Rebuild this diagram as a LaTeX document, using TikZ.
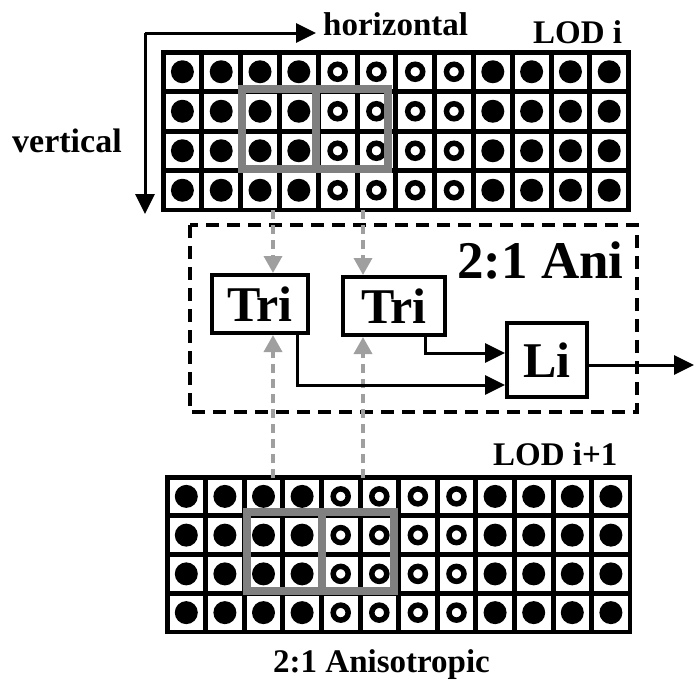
\documentclass[tikz,border=0pt]{standalone}
\usepackage{fontspec}
\setmainfont{Liberation Serif}
\usetikzlibrary{arrows.meta}
\newcommand\lodgrid[4]{%
  \fill[black] ({#1-2},{#2-2}) rectangle ++({12*#3+4},{4*#4+4});
  \foreach \i in {0,...,11}{\foreach \j in {0,...,3}{%
    \fill[white] ({#1+\i*#3+2.5},{#2+\j*#4+2.5}) rectangle ++({#3-5},{#4-5});
    \ifnum\i>3 \ifnum\i<8
      \draw[line width=5.5pt] ({#1+(\i+0.5)*#3},{#2+(\j+0.5)*#4}) circle (7.5pt);
    \else
      \fill ({#1+(\i+0.5)*#3},{#2+(\j+0.5)*#4}) circle (11.5pt);
    \fi\else
      \fill ({#1+(\i+0.5)*#3},{#2+(\j+0.5)*#4}) circle (11.5pt);
    \fi
  }}}
\begin{document}
\begin{tikzpicture}[x=1pt,y=-1pt,
  lbl/.style={anchor=base west,inner sep=0pt,font=\bfseries\fontsize{33}{33}\selectfont},
  blk/.style={draw,line width=4pt,fill=white,inner sep=0pt,font=\bfseries\fontsize{50}{50}\selectfont},
  garrow/.style={draw=gray!75,line width=3.5pt,dash pattern=on 9pt off 6pt,-{Triangle[length=17pt,width=18pt,fill=gray!75]}},
  barrow/.style={draw,line width=3pt,-{Triangle[length=20pt,width=19pt]}},
  gbox/.style={draw=black!50,line width=8pt}]
\useasboundingbox (0,0) rectangle (694,689);
% grids
\lodgrid{163}{52}{38.8}{39.5}
\lodgrid{167}{477}{38.6}{38.75}
\draw[gbox] (242,89) rectangle (388,169) (316,89) -- (316,169);
\draw[gbox] (247,512) rectangle (394,591) (322,512) -- (322,591);
% direction arrows
\coordinate (corner) at (145,33);
\coordinate (hend) at (316,33);
\coordinate (vend) at (145,214);
\draw[barrow] (corner) -- (hend);
\draw[barrow] (corner) -- (vend);
\node[lbl] (hlab) at (323,35) {horizontal};
\node[lbl] (lodi) at (533,43) {LOD i};
\node[lbl,font=\bfseries\fontsize{34}{34}\selectfont] (vlab) at (12,152) {vertical};
\node[lbl] (lodi1) at (493,465) {LOD i+1};
\node[lbl] (aniso) at (273,672) {2:1 Anisotropic};
% dashed box
\draw[line width=4pt,dash pattern=on 13pt off 8pt] (190,225) rectangle (637,412);
\node[lbl,font=\bfseries\fontsize{53}{53}\selectfont] (ani) at (457,278) {2:1 Ani};
% blocks
\node[blk,minimum width=96pt,minimum height=58pt] (tri1) at (260,304) {Tri};
\node[blk,minimum width=102pt,minimum height=58pt] (tri2) at (394,306) {Tri};
\node[blk,minimum width=80pt,minimum height=74pt] (li) at (547,360) {Li};
\coordinate (out) at (694,365);
% gray dashed arrows
\coordinate (t1) at (273,210);
\coordinate (t2) at (363,210);
\coordinate (b1) at (273,478);
\coordinate (b2) at (363,478);
\draw[garrow] (t1) -- (t1 |- tri1.north);
\draw[garrow] (t2) -- (t2 |- tri2.north);
\draw[garrow] (b1) -- (b1 |- tri1.south);
\draw[garrow] (b2) -- (b2 |- tri2.south);
% black arrows
\draw[barrow] ([xshift=37pt]tri1.south) |- ([yshift=-25pt]li.west);
\draw[barrow] ([xshift=31pt]tri2.south) |- ([yshift=7pt]li.west);
\draw[barrow] (li.east |- out) -- (out);
\end{tikzpicture}
\end{document}
